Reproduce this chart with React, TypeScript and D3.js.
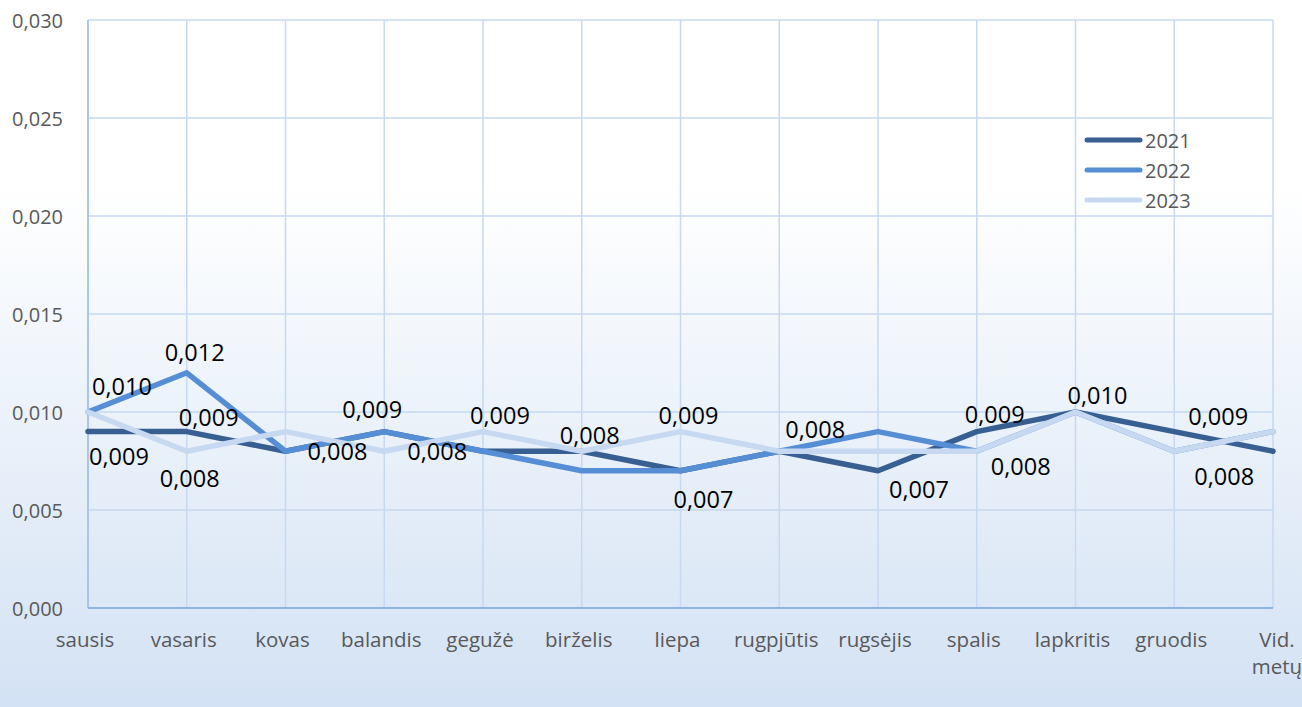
import React from "react";
import * as d3 from "d3";

const categories = ["sausis", "vasaris", "kovas", "balandis", "gegužė", "birželis", "liepa", "rugpjūtis", "rugsėjis", "spalis", "lapkritis", "gruodis", "Vid. metų"];
const seriesNames = ["2021", "2022", "2023"];
const values2021 = [0.009, 0.009, 0.008, 0.009, 0.008, 0.008, 0.007, 0.008, 0.007, 0.009, 0.010, 0.009, 0.008];
const values2022 = [0.010, 0.012, 0.008, 0.009, 0.008, 0.007, 0.007, 0.008, 0.009, 0.008, 0.010, 0.008, 0.009];
const values2023 = [0.010, 0.008, 0.009, 0.008, 0.009, 0.008, 0.009, 0.008, 0.008, 0.008, 0.010, 0.008, 0.009];
const yTicks = [0, 0.005, 0.01, 0.015, 0.02, 0.025, 0.03];
const colors = ["#375f92", "#558ed5", "#c6d9f1"];

// data labels: [series index, category index, dx, dy]
const labelPlacements: [number, number, number, number][] = [
  [1, 0, 34, -26], [0, 0, 31, 24],
  [1, 1, 8, -21], [0, 1, 22, -15], [2, 1, 3, 27],
  [1, 2, 52, 0],
  [1, 3, -12, -23], [2, 3, 53, 0],
  [2, 4, 17, -17],
  [2, 5, 8, -16],
  [2, 6, 8, -17], [1, 6, 23, 28],
  [1, 7, 36, -22],
  [0, 8, 41, 18],
  [0, 9, 18, -18], [2, 9, 44, 15],
  [0, 10, 22, -17],
  [0, 11, 44, -16], [2, 11, 50, 25],
];

const W = 1302, H = 707;
const FONT = "'Open Sans', 'Liberation Sans', sans-serif";

export default function App() {
  const allSeries = [values2021, values2022, values2023];
  const x = d3.scalePoint<number>().domain(d3.range(categories.length)).range([88, 1273]);
  const y = d3.scaleLinear().domain([0, 0.03]).range([608, 20]);
  const line = d3.line<number>().x((_, i) => x(i)!).y((d) => y(d));
  const fmt = (v: number) => d3.format(".3f")(v).replace(".", ",");

  return (
    <svg width={W} height={H} style={{ position: "absolute", left: 0, top: 0, display: "block" }} fontFamily={FONT}>
      <defs>
        <linearGradient id="bg" x1="0" y1="0" x2="0" y2="1">
          <stop offset="0%" stopColor="#ffffff" />
          <stop offset="26%" stopColor="#ffffff" />
          <stop offset="100%" stopColor="#d3e2f4" />
        </linearGradient>
      </defs>
      <rect x={0} y={0} width={W} height={H} fill="url(#bg)" />
      {yTicks.map((t) => (
        <line key={"h" + t} x1={88} x2={1273} y1={y(t)} y2={y(t)} stroke="#c6d9f1" strokeWidth={1.5} />
      ))}
      {categories.map((_, i) => (
        <line key={"v" + i} x1={x(i)} x2={x(i)} y1={20} y2={608} stroke="#c6d9f1" strokeWidth={1.5} />
      ))}
      <line x1={88} x2={88} y1={20} y2={608} stroke="#9dbde7" strokeWidth={1.5} />
      <line x1={88} x2={1273} y1={608} y2={608} stroke="#8db3e2" strokeWidth={2} />
      {yTicks.map((t) => (
        <text key={"yt" + t} x={63} y={y(t)} textAnchor="end" dominantBaseline="central" fontSize={20} fill="#595959">
          {fmt(t)}
        </text>
      ))}
      {categories.map((c, i) => {
        const parts = c === "Vid. metų" ? ["Vid.", "metų"] : [c];
        return (
          <text key={"xc" + i} y={647} textAnchor="middle" fontSize={20.5} fill="#595959">
            {parts.map((p, j) => (
              <tspan key={j} x={x(i)! + (parts.length > 1 ? 4 : -3)} dy={j === 0 ? 0 : 27}>{p}</tspan>
            ))}
          </text>
        );
      })}
      {allSeries.map((s, k) => (
        <path key={"l" + k} d={line(s)!} fill="none" stroke={colors[k]} strokeWidth={5.5} strokeLinejoin="round" strokeLinecap="round" />
      ))}
      {labelPlacements.map(([s, i, dx, dy], n) => (
        <text key={"dl" + n} x={x(i)! + dx} y={y(allSeries[s][i]) + dy} textAnchor="middle" dominantBaseline="central" fontSize={23.5} fill="#000000">
          {fmt(allSeries[s][i])}
        </text>
      ))}
      {seriesNames.map((n, k) => (
        <g key={"lg" + k}>
          <line x1={1087} x2={1140} y1={140 + k * 30} y2={140 + k * 30} stroke={colors[k]} strokeWidth={5} strokeLinecap="round" />
          <text x={1145} y={140 + k * 30} dominantBaseline="central" fontSize={20} fill="#595959">{n}</text>
        </g>
      ))}
    </svg>
  );
}
